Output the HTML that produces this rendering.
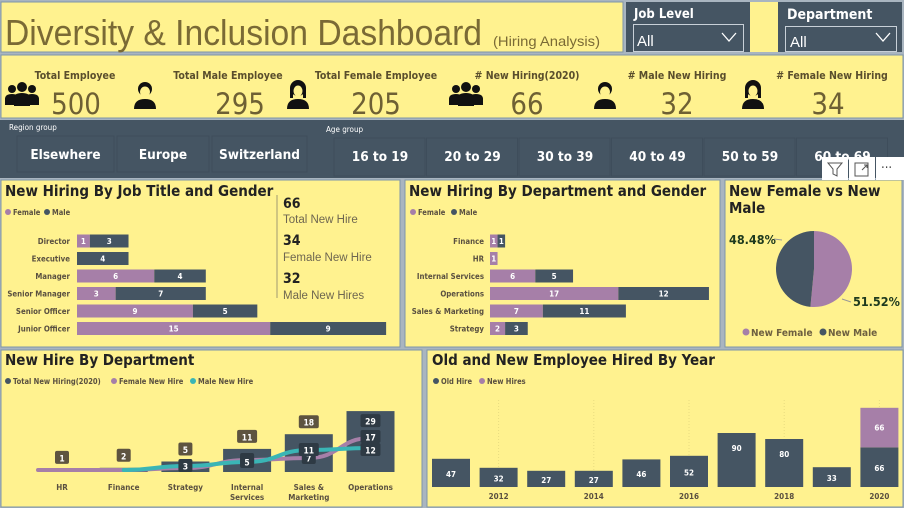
<!DOCTYPE html>
<html><head><meta charset="utf-8"><style>
html,body{margin:0;padding:0;background:#a9b5c0;}
svg{display:block;font-family:"DejaVu Sans Condensed","Liberation Sans Narrow","Liberation Sans",sans-serif;}
</style></head><body>
<svg id="s" width="904" height="508" viewBox="0 0 904 508" xmlns="http://www.w3.org/2000/svg">
<rect x="0" y="0" width="904" height="508" fill="#a9b5c0"/>
<rect x="1" y="2" width="622" height="50" fill="#fff28f" stroke="#7f95a8"/>
<text x="5" y="45" font-family="Liberation Sans Narrow, Liberation Sans, sans-serif" font-size="36" fill="#7a6a35" textLength="477" lengthAdjust="spacingAndGlyphs">Diversity &amp; Inclusion Dashboard</text>
<text x="493" y="46" font-family="Liberation Sans Narrow, Liberation Sans, sans-serif" font-size="14" fill="#7a6a35" textLength="107" lengthAdjust="spacingAndGlyphs">(Hiring Analysis)</text>
<rect x="750" y="2" width="28" height="50" fill="#fff28f"/>
<g>
<rect x="626" y="2" width="124" height="50" fill="#455563"/>
<text x="634" y="18" font-size="13" font-weight="bold" fill="#fff">Job Level</text>
<rect x="633.5" y="24.5" width="110" height="27" fill="#455563" stroke="#c8d0d8"/>
<text x="637" y="46" font-size="15" fill="#fff" font-family="Liberation Sans, sans-serif">All</text>
<path d="M722 33 L729 41 L736 33" fill="none" stroke="#fff" stroke-width="1.3"/>
</g>
<g>
<rect x="778" y="2" width="124" height="50" fill="#455563"/>
<text x="787" y="19" font-size="14" font-weight="bold" fill="#fff">Department</text>
<rect x="785.5" y="26.5" width="111" height="25" fill="#455563" stroke="#c8d0d8"/>
<text x="790" y="47" font-size="15" fill="#fff" font-family="Liberation Sans, sans-serif">All</text>
<path d="M876 33 L883 41 L890 33" fill="none" stroke="#fff" stroke-width="1.3"/>
</g>
<rect x="1" y="55" width="902" height="63" fill="#fff28f" stroke="#7f95a8"/>
<g id="kpis"></g>
<rect x="0" y="120" width="904" height="58" fill="#455563"/>
<text x="9" y="130" font-size="8" fill="#fff">Region group</text>
<text x="326" y="132" font-size="8" fill="#fff">Age group</text>
<g id="btns"></g>
<rect x="1" y="180" width="399" height="167" fill="#fff28f" stroke="#7f95a8"/>
<rect x="405" y="180" width="315" height="167" fill="#fff28f" stroke="#7f95a8"/>
<rect x="725" y="180" width="177" height="167" fill="#fff28f" stroke="#7f95a8"/>
<rect x="1" y="350" width="421" height="157" fill="#fff28f" stroke="#7f95a8"/>
<rect x="427" y="350" width="476" height="157" fill="#fff28f" stroke="#7f95a8"/>

<text x="5" y="196" font-size="15" font-weight="bold" fill="#222">New Hiring By Job Title and Gender</text>
<text x="409" y="196" font-size="15" font-weight="bold" fill="#222">New Hiring By Department and Gender</text>
<text x="729" y="196" font-size="15" font-weight="bold" fill="#222">New Female vs New</text>
<text x="729" y="213" font-size="15" font-weight="bold" fill="#222">Male</text>
<text x="5" y="365" font-size="15" font-weight="bold" fill="#222">New Hire By Department</text>
<text x="432" y="365" font-size="15" font-weight="bold" fill="#222">Old and New Employee Hired By Year</text>

<g font-size="7.5" font-weight="bold" fill="#5a5040">
<g><circle cx="8" cy="212" r="3" fill="#a67fa8"/><text x="13" y="215">Female</text><circle cx="47" cy="212" r="3" fill="#455563"/><text x="52" y="215">Male</text></g>
<g><circle cx="413" cy="212" r="3" fill="#a67fa8"/><text x="418" y="215">Female</text><circle cx="454" cy="212" r="3" fill="#455563"/><text x="459" y="215">Male</text></g>
<g><circle cx="8" cy="381" r="3" fill="#455563"/><text x="13" y="384">Total New Hiring(2020)</text><circle cx="114" cy="381" r="3" fill="#a67fa8"/><text x="119" y="384">Female New Hire</text><circle cx="193" cy="381" r="3" fill="#3ab5b5"/><text x="198" y="384">Male New Hire</text></g>
<g><circle cx="436" cy="381" r="3" fill="#455563"/><text x="441" y="384">Old Hire</text><circle cx="482" cy="381" r="3" fill="#a67fa8"/><text x="487" y="384">New Hires</text></g>
</g>
<g font-size="10" font-weight="bold"><circle cx="746" cy="332" r="3.5" fill="#a67fa8"/><text x="751" y="336" fill="#6e6040">New Female</text><circle cx="823" cy="332" r="3.5" fill="#455563"/><text x="828" y="336" fill="#6e6040">New Male</text></g>

<line x1="277" y1="195" x2="277" y2="298" stroke="#a09a70"/>
<g fill="#222">
<text x="283" y="208" font-size="14" font-weight="bold">66</text>
<text x="283" y="223" font-size="11.5" fill="#6e6650" font-family="Liberation Sans, sans-serif">Total New Hire</text>
<text x="283" y="245" font-size="14" font-weight="bold">34</text>
<text x="283" y="261" font-size="11.5" fill="#6e6650" font-family="Liberation Sans, sans-serif">Female New Hire</text>
<text x="283" y="283" font-size="14" font-weight="bold">32</text>
<text x="283" y="299" font-size="11.5" fill="#6e6650" font-family="Liberation Sans, sans-serif">Male New Hires</text>
</g>
<g id="c1"></g><g id="c2"></g><g id="c3"></g><g id="c4"></g><g id="c5"></g>
<g>
<rect x="822" y="157" width="26" height="23" fill="#fff"/>
<path d="M828 163 L842 163 L837 169 L837 176 L833 174 L833 169 Z" fill="none" stroke="#555"/>
<rect x="849" y="157" width="26" height="23" fill="#fff"/>
<path d="M855 163 h13 v13 h-13 z M862 170 l5 -5 M864 165 h3 v3" fill="none" stroke="#555"/>
<rect x="876" y="157" width="28" height="23" fill="#fff"/>
<text x="881" y="172" font-size="13" fill="#444">···</text>
</g>
</svg>
<script>
const NS='http://www.w3.org/2000/svg';
const kpiLabels=['Total Employee','Total Male Employee','Total Female Employee','# New Hiring(2020)','# Male New Hiring','# Female New Hiring'];
const kpiValues=[500,295,205,66,32,34];
const kpiIcons=['group','male','female','group','male','female'];
const regionNames=['Elsewhere','Europe','Switzerland'];
const ageNames=['16 to 19','20 to 29','30 to 39','40 to 49','50 to 59','60 to 69'];
const jobTitles=['Director','Executive','Manager','Senior Manager','Senior Officer','Junior Officer'];
const jobFemale=[1,0,6,3,9,15];
const jobMale=[3,4,4,7,5,9];
const depts=['Finance','HR','Internal Services','Operations','Sales & Marketing','Strategy'];
const deptFemale=[1,1,6,17,7,2];
const deptMale=[1,0,5,12,11,3];
const pieLabels=['New Female','New Male'];
const pieValues=[34,32];
const c4Depts=['HR','Finance','Strategy','Internal|Services','Sales &|Marketing','Operations'];
const c4Total=[1,2,5,11,18,29];
const c4Female=[1,1,2,6,7,17];
const c4Male=[0,1,3,5,11,12];
const years=[2011,2012,2013,2014,2015,2016,2017,2018,2019,2020];
const oldHire=[47,32,27,27,46,52,90,80,33,66];
const newHire=[0,0,0,0,0,0,0,0,0,66];

function mk(tag,attrs,parent,txt){const e=document.createElementNS(NS,tag);for(const k in attrs)e.setAttribute(k,attrs[k]);if(txt!==undefined)e.textContent=txt;parent.appendChild(e);return e;}
const g=id=>document.getElementById(id);

const kpiLabelX=[75,228,376,527,677,832];
const kpiNumX=[76,240,376,527,677,828];
const kpiIconX=[22,145,298,466,605,753];
function icon(type,x,parent){
  const gi=mk('g',{fill:'#111'},parent);
  
  
  if(type==='group'){
    mk('circle',{cx:x-10,cy:89,r:4},gi);mk('circle',{cx:x+10,cy:89,r:4},gi);mk('circle',{cx:x,cy:87,r:5},gi);
    mk('path',{d:`M${x-17} 105 v-6 q0-5 7-5 q7 0 7 5 v6z M${x+3} 105 v-6 q0-5 7-5 q7 0 7 5 v6z`},gi);
    mk('path',{d:`M${x-8} 106 v-8 q0-5 8-5 q8 0 8 5 v8z`},gi);
  } else {
    mk('path',{d:`M${x-11} 109 q0-10 11-10 q11 0 11 10z`},gi);
    if(type==='male'){mk('circle',{cx:x,cy:89,r:7},gi);mk('ellipse',{cx:x,cy:92,rx:5,ry:5.5,fill:'#fff28f'},gi);}
    else{mk('circle',{cx:x,cy:88,r:8},gi);mk('ellipse',{cx:x,cy:91,rx:4.5,ry:5.5,fill:'#fff28f'},gi);mk('rect',{x:x-8,y:88,width:3,height:10},gi);mk('rect',{x:x+5,y:88,width:3,height:10},gi);}
  }
}
kpiLabels.forEach((l,i)=>{
  const t=mk('text',{x:kpiLabelX[i],y:79,'text-anchor':'middle','font-size':10.5,'font-weight':'bold',fill:'#5a4e2c'},g('kpis'),l);
  
  
  const n=mk('text',{x:kpiNumX[i],y:114,'text-anchor':'middle','font-size':29,fill:'#6e6034'},g('kpis'),String(kpiValues[i]));
  
  
  icon(kpiIcons[i],kpiIconX[i],g('kpis'));
});
const regX=[17,117,212],regW=[97,92,95];
regionNames.forEach((r,i)=>{
  const b=mk('g',{},g('btns'));
  
  
  mk('rect',{x:regX[i],y:136,width:regW[i],height:36,fill:'#455563',stroke:'#3e4d5b'},b);
  mk('text',{x:regX[i]+regW[i]/2,y:159,'text-anchor':'middle','font-size':13.5,'font-weight':'bold',fill:'#fff'},b,r);
});
ageNames.forEach((a,i)=>{
  const x=334+i*92.5;
  const b=mk('g',{},g('btns'));
  
  
  mk('rect',{x:x,y:138,width:91,height:38,fill:'#455563',stroke:'#3e4d5b'},b);
  mk('text',{x:x+46,y:161,'text-anchor':'middle','font-size':13.5,'font-weight':'bold',fill:'#fff'},b,a);
});
function hbar(parent,cats,fem,mal,x0,scale,labelX,y0,step,h,nm){
  cats.forEach((c,i)=>{
    const cy=y0+i*step;
    const t=mk('text',{x:labelX,y:cy+3,'text-anchor':'end','font-size':7.8,'font-weight':'bold',fill:'#5a5040'},parent,c);
    
    
    const wf=fem[i]*scale,wm=mal[i]*scale;
    if(fem[i]>0){
      const r=mk('rect',{x:x0,y:cy-h/2,width:wf,height:h,fill:'#a67fa8'},parent);
      
      
      mk('text',{x:x0+wf/2,y:cy+3,'text-anchor':'middle','font-size':8,'font-weight':'bold',fill:'#fff'},parent,String(fem[i]));
    }
    if(mal[i]>0){
      const r=mk('rect',{x:x0+wf,y:cy-h/2,width:wm,height:h,fill:'#455563'},parent);
      
      
      mk('text',{x:x0+wf+wm/2,y:cy+3,'text-anchor':'middle','font-size':8,'font-weight':'bold',fill:'#fff'},parent,String(mal[i]));
    }
  });
}
hbar(g('c1'),jobTitles,jobFemale,jobMale,77,12.88,70,241,17.5,13,'job');
hbar(g('c2'),depts,deptFemale,deptMale,490,7.55,484,241,17.5,13,'dept');
(function(){
  const cx=814,cy=269,r=38,tot=pieValues.reduce((a,b)=>a+b,0);
  const cols=['#a67fa8','#455563'];let a0=-Math.PI/2;
  pieValues.forEach((v,i)=>{
    const a1=a0+v/tot*2*Math.PI;
    const p=mk('path',{d:`M${cx} ${cy} L${cx+r*Math.cos(a0)} ${cy+r*Math.sin(a0)} A${r} ${r} 0 ${a1-a0>Math.PI?1:0} 1 ${cx+r*Math.cos(a1)} ${cy+r*Math.sin(a1)}Z`,fill:cols[i]},g('c3'));
    
    
    a0=a1;
  });
  const pf=(pieValues[0]/tot*100).toFixed(2)+'%',pm=(pieValues[1]/tot*100).toFixed(2)+'%';
  const t1=mk('text',{x:729,y:244,'font-size':12.5,'font-weight':'bold',fill:'#1e3a1e'},g('c3'),pm);
  
  
  const t2=mk('text',{x:853,y:306,'font-size':12.5,'font-weight':'bold',fill:'#1e3a1e'},g('c3'),pf);
  
  
  mk('path',{d:'M774 239 L782 240 M842 299 L851 302',stroke:'#999',fill:'none'},g('c3'));
})();
(function(){
  const P=g('c4'),base=472,bs=2.1,ls=2,bw=48;
  const xc=i=>62+i*61.7;
  c4Total.forEach((v,i)=>{
    const h=Math.max(v*bs,2);
    const r=mk('rect',{x:xc(i)-bw/2,y:base-h,width:bw,height:h,fill:'#455563'},P);
    
    
    c4Depts[i].split('|').forEach((p,j)=>{
      const t=mk('text',{x:xc(i),y:490+j*10,'text-anchor':'middle','font-size':8,'font-weight':'bold',fill:'#5a5040'},P,p);
      
      
    });
  });
  function line(vals,col,nm,start){
    const pts=vals.map((v,i)=>[xc(i),base-v*ls]);
    const s=pts.slice(start);
    let d=`M${s[0][0]-(start===0?24:0)} ${s[0][1]}`;
    s.forEach((p,i)=>{if(i===0){d+=` L${p[0]} ${p[1]}`;return;}const q=s[i-1],mx=(q[0]+p[0])/2;d+=` C${mx} ${q[1]} ${mx} ${p[1]} ${p[0]} ${p[1]}`;});
    const l=mk('path',{d:d,fill:'none',stroke:col,'stroke-width':4,'stroke-linecap':'round'},P);
    
    
    return pts;
  }
  const fp=line(c4Female,'#a67fa8','female-new-hire-line',0);
  const mp=line(c4Male,'#3ab5b5','male-new-hire-line',1);
  function lab(x,y,t,bg){
    const w=t.length*6+8;
    const gg=mk('g',{},P);
    
    
    mk('rect',{x:x-w/2,y:y-7,width:w,height:13,rx:2,fill:bg},gg);
    mk('text',{x:x,y:y+3.5,'text-anchor':'middle','font-size':8.5,'font-weight':'bold',fill:'#fff'},gg,t);
  }
  c4Total.forEach((v,i)=>{lab(xc(i),base-Math.max(v*bs,2)-(i==5?-10:12),String(v),i==5?'#2e3a44':'#5e5440');});
  c4Female.forEach((v,i)=>{if(i>=3)lab(fp[i][0]+(i==3?0:0),fp[i][1]+(i==5?-1:0),String(v),'#2e3a44');});
  c4Male.forEach((v,i)=>{if(i>=2)lab(mp[i][0],mp[i][1]+(i==5?2:0),String(v),'#2e3a44');});
})();
(function(){
  const P=g('c5'),base=487,s=0.6,bw=38;
  const xc=i=>451+i*47.6;
  years.forEach((y,i)=>{
    if(y%2===0){
      const gl=mk('line',{x1:xc(i),y1:400,x2:xc(i),y2:base,stroke:'#e8dc80','stroke-dasharray':'1 2'},P);
      
      
    }
  });
  years.forEach((y,i)=>{
    const ho=oldHire[i]*s,hn=newHire[i]*s;
    const r=mk('rect',{x:xc(i)-bw/2,y:base-ho,width:bw,height:ho,fill:'#455563'},P);
    
    
    mk('text',{x:xc(i),y:base-ho+(ho>40?18:ho/2+4),'text-anchor':'middle','font-size':8,'font-weight':'bold',fill:'#fff'},P,String(oldHire[i]));
    if(newHire[i]>0){
      const n=mk('rect',{x:xc(i)-bw/2,y:base-ho-hn,width:bw,height:hn,fill:'#a67fa8'},P);
      
      
      mk('text',{x:xc(i),y:base-ho-hn/2+3,'text-anchor':'middle','font-size':8,'font-weight':'bold',fill:'#fff'},P,String(newHire[i]));
    }
    if(y%2===0){
      const t=mk('text',{x:xc(i),y:499,'text-anchor':'middle','font-size':8,'font-weight':'bold',fill:'#5a5040'},P,String(y));
      
      
    }
  });
})();
</script>
</body></html>
